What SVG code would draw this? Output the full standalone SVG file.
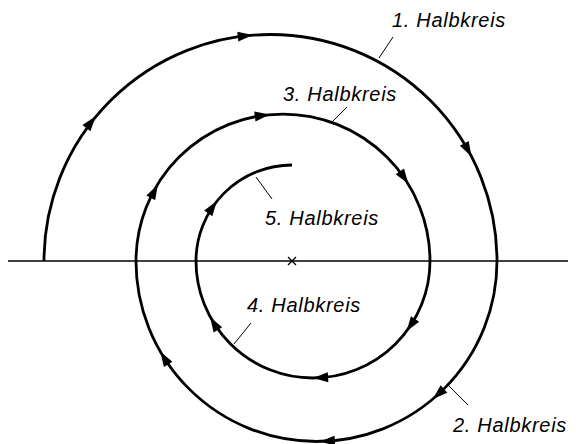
<svg xmlns="http://www.w3.org/2000/svg" width="576" height="444" viewBox="0 0 576 444">
<style>
.arc{fill:none;stroke:#000;stroke-width:2.8}
.axis{fill:none;stroke:#000;stroke-width:1.3}
.lead{fill:none;stroke:#000;stroke-width:1}
.lbl{font-family:"Liberation Sans",Arial,sans-serif;font-style:italic;font-size:20px;letter-spacing:0.7px;fill:#000}
</style>
<defs>
<polygon id="ah" points="6,0 -9,-5 -9,5" fill="#000"/>
</defs>
<rect width="576" height="444" fill="#fff"/>
<g id="axis">
<line class="axis" x1="8" y1="261" x2="568" y2="261"/>
<path class="axis" d="M288,257 L296,265 M296,257 L288,265"/>
</g>
<g id="connectors">
<path id="h1" class="arc" d="M44,261 A226.5,226.5 0 0 1 497,261"/>
<path id="h2" class="arc" d="M497,261 A180.5,180.5 0 0 1 136,261"/>
<path id="h3" class="arc" d="M136,261 A147,147 0 0 1 430,261"/>
<path id="h4" class="arc" d="M430,261 A117,117 0 0 1 196,261"/>
<path id="h5" class="arc" d="M196,261 A96,96 0 0 1 292,165"/>
<use href="#ah" transform="translate(92,121) rotate(-52)"/>
<use href="#ah" transform="translate(246.8,35.7) rotate(-6)"/>
<use href="#ah" transform="translate(468.6,151.2) rotate(61)"/>
<use href="#ah" transform="translate(437.3,395.1) rotate(138)"/>
<use href="#ah" transform="translate(325.9,441.2) rotate(177)"/>
<use href="#ah" transform="translate(163.4,356.7) rotate(-122)"/>
<use href="#ah" transform="translate(155,190) rotate(-62)"/>
<use href="#ah" transform="translate(263.8,115.3) rotate(-7.5)"/>
<use href="#ah" transform="translate(404.9,178.8) rotate(56)"/>
<use href="#ah" transform="translate(410,326.4) rotate(124)"/>
<use href="#ah" transform="translate(319.1,377.8) rotate(177)"/>
<use href="#ah" transform="translate(213.2,322.1) rotate(-121.5)"/>
<use href="#ah" transform="translate(213.4,205.9) rotate(-55)"/>
</g>
<g id="label1">
<line class="lead" x1="393" y1="37" x2="379" y2="58"/>
<text class="lbl" x="392" y="27">1. Halbkreis</text>
</g>
<g id="label2">
<line class="lead" x1="468" y1="405" x2="448" y2="385"/>
<text class="lbl" x="453" y="432">2. Halbkreis</text>
</g>
<g id="label3">
<line class="lead" x1="347" y1="107" x2="332" y2="122"/>
<text class="lbl" x="283" y="101">3. Halbkreis</text>
</g>
<g id="label4">
<line class="lead" x1="251" y1="323" x2="234" y2="344"/>
<text class="lbl" x="247" y="312">4. Halbkreis</text>
</g>
<g id="label5">
<line class="lead" x1="272" y1="199" x2="256" y2="177"/>
<text class="lbl" x="265" y="225">5. Halbkreis</text>
</g>
</svg>
